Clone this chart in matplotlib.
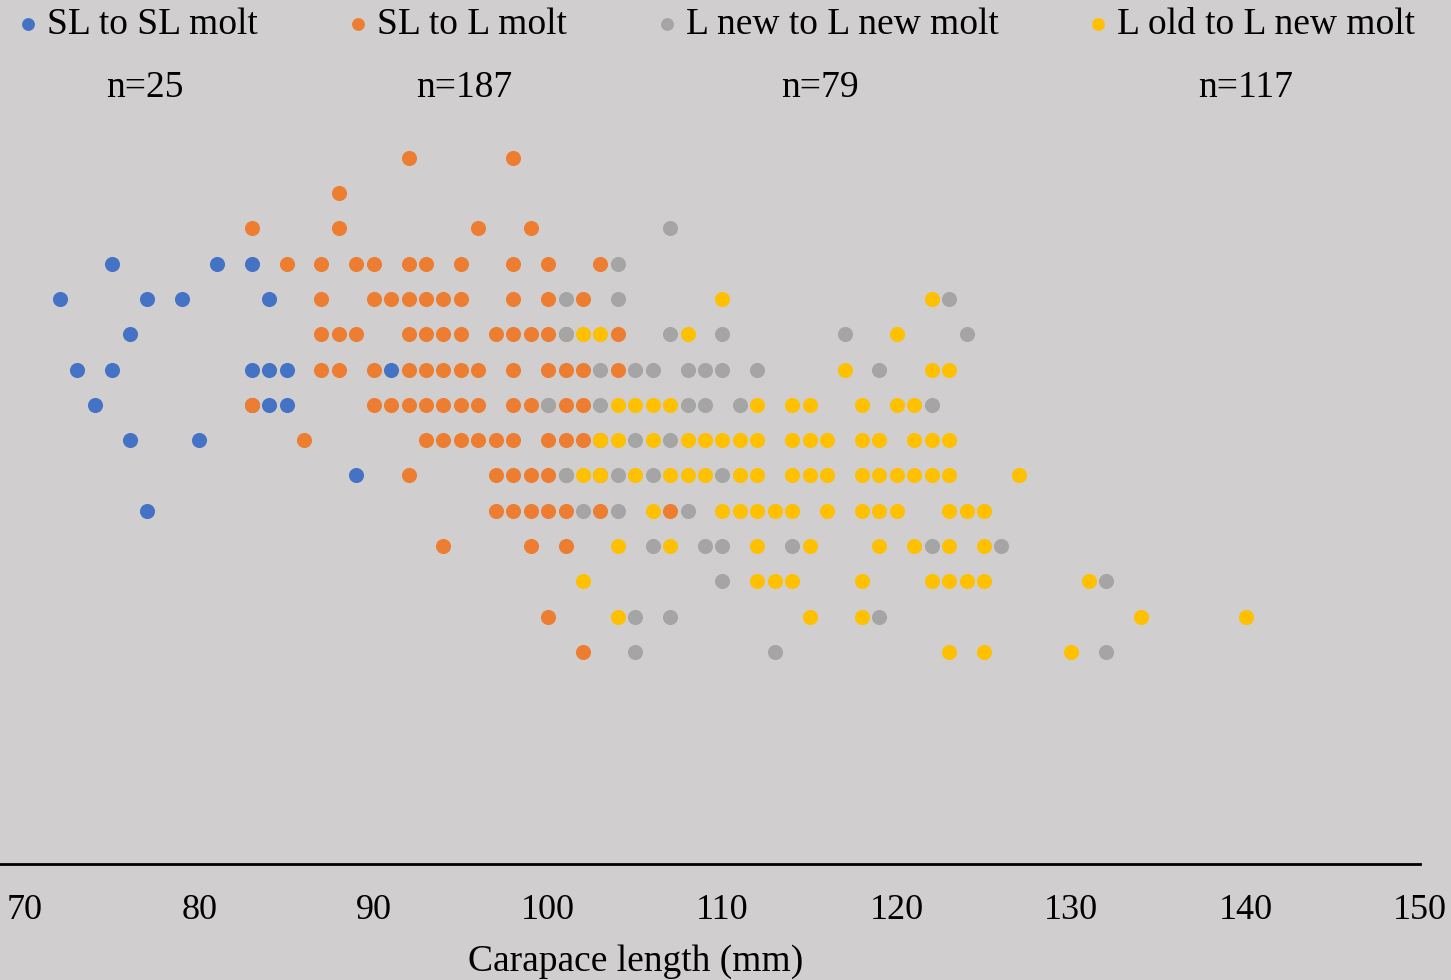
import matplotlib
matplotlib.use("Agg")
import matplotlib.pyplot as plt

plt.rcParams['font.family'] = ['Liberation Serif', 'DejaVu Serif']

# points per row: y level -> carapace lengths (mm)
sl_sl_rows = {
    17: [75, 81, 83],
    16: [72, 77, 79, 84],
    15: [76],
    14: [73, 75, 83, 84, 85, 91],
    13: [74, 83, 84, 85],
    12: [76, 80],
    11: [89],
    10: [77],
}
sl_l_rows = {
    20: [92, 98],
    19: [88],
    18: [83, 88, 96, 99],
    17: [85, 87, 89, 90, 92, 93, 95, 98, 100, 103],
    16: [87, 90, 91, 92, 93, 94, 95, 98, 100, 102],
    15: [87, 88, 89, 92, 93, 94, 95, 97, 98, 99, 100, 101, 104],
    14: [87, 88, 90, 92, 93, 94, 95, 96, 98, 100, 101, 102, 104],
    13: [83, 90, 91, 92, 93, 94, 95, 96, 98, 99, 100, 101, 102],
    12: [86, 93, 94, 95, 96, 97, 98, 100, 101, 102, 103],
    11: [92, 97, 98, 99, 100, 101, 103],
    10: [97, 98, 99, 100, 101, 103, 107],
    9: [94, 99, 101],
    7: [100],
    6: [102],
}
lnew_rows = {
    18: [107],
    17: [104],
    16: [101, 104, 123],
    15: [101, 107, 110, 117, 124],
    14: [103, 105, 106, 108, 109, 110, 112, 119],
    13: [100, 103, 108, 109, 111, 122],
    12: [105, 107],
    11: [101, 104, 106, 110],
    10: [102, 104, 108],
    9: [106, 109, 110, 114, 122, 126],
    8: [110, 132],
    7: [105, 107, 119],
    6: [105, 113, 132],
}
lold_rows = {
    16: [110, 122],
    15: [102, 103, 108, 120],
    14: [117, 122, 123],
    13: [104, 105, 106, 107, 112, 114, 115, 118, 120, 121],
    12: [103, 104, 106, 108, 109, 110, 111, 112, 114, 115, 116, 118, 119,
         121, 122, 123],
    11: [102, 103, 105, 107, 108, 109, 111, 112, 114, 115, 116, 118, 119,
         120, 121, 122, 123, 127],
    10: [106, 110, 111, 112, 113, 114, 116, 118, 119, 120, 123, 124, 125],
    9: [104, 107, 112, 115, 119, 121, 123, 125],
    8: [102, 112, 113, 114, 118, 122, 123, 124, 125, 131],
    7: [104, 115, 118, 134, 140],
    6: [123, 125, 130],
}

labels = ['SL to SL molt', 'SL to L molt', 'L new to L new molt', 'L old to L new molt']
colors = ['#4472C4', '#ED7D31', '#A5A5A5', '#FFC000']
n_labels = ['n=25', 'n=187', 'n=79', 'n=117']
n_label_x = [76.9, 95.2, 115.6, 140.0]

bg = '#D0CECE'
fig = plt.figure(figsize=(14.51, 9.80), dpi=100, facecolor=bg)
ax = fig.add_axes([0, 116.3 / 980, 1420 / 1451, 847 / 980])
ax.set_facecolor(bg)

for rows, lab, col in zip([sl_sl_rows, sl_l_rows, lnew_rows, lold_rows], labels, colors):
    xs, ys = [], []
    for y, row in rows.items():
        xs += row
        ys += [y] * len(row)
    ax.scatter(xs, ys, s=118, color=col, linewidths=0, label=lab)

for t, x in zip(n_labels, n_label_x):
    ax.text(x, 21.98, t, ha='center', va='center', fontsize=27)

ax.set_xlim(70 - 25 / 17.4375, 150)
ax.set_ylim(0, 24)
ax.set_xticks(range(70, 151, 10))
ax.set_yticks([])
ax.tick_params(axis='x', length=0, labelsize=26, pad=22)
for s in ['top', 'left', 'right']:
    ax.spines[s].set_visible(False)
ax.spines['bottom'].set_linewidth(2)
ax.spines['bottom'].set_color('black')

ax.set_xlabel('Carapace length (mm)', fontsize=27)
ax.xaxis.set_label_coords(636 / 1420, -0.095)

fig.legend(loc='center left', bbox_to_anchor=(19 / 1451, 1 - 25 / 980), ncol=4,
           frameon=False, fontsize=27, markerscale=0.85, handlelength=0.5,
           handletextpad=0.25, columnspacing=2.42, borderpad=0, borderaxespad=0)

plt.savefig('out.png', dpi=100, facecolor=bg)
